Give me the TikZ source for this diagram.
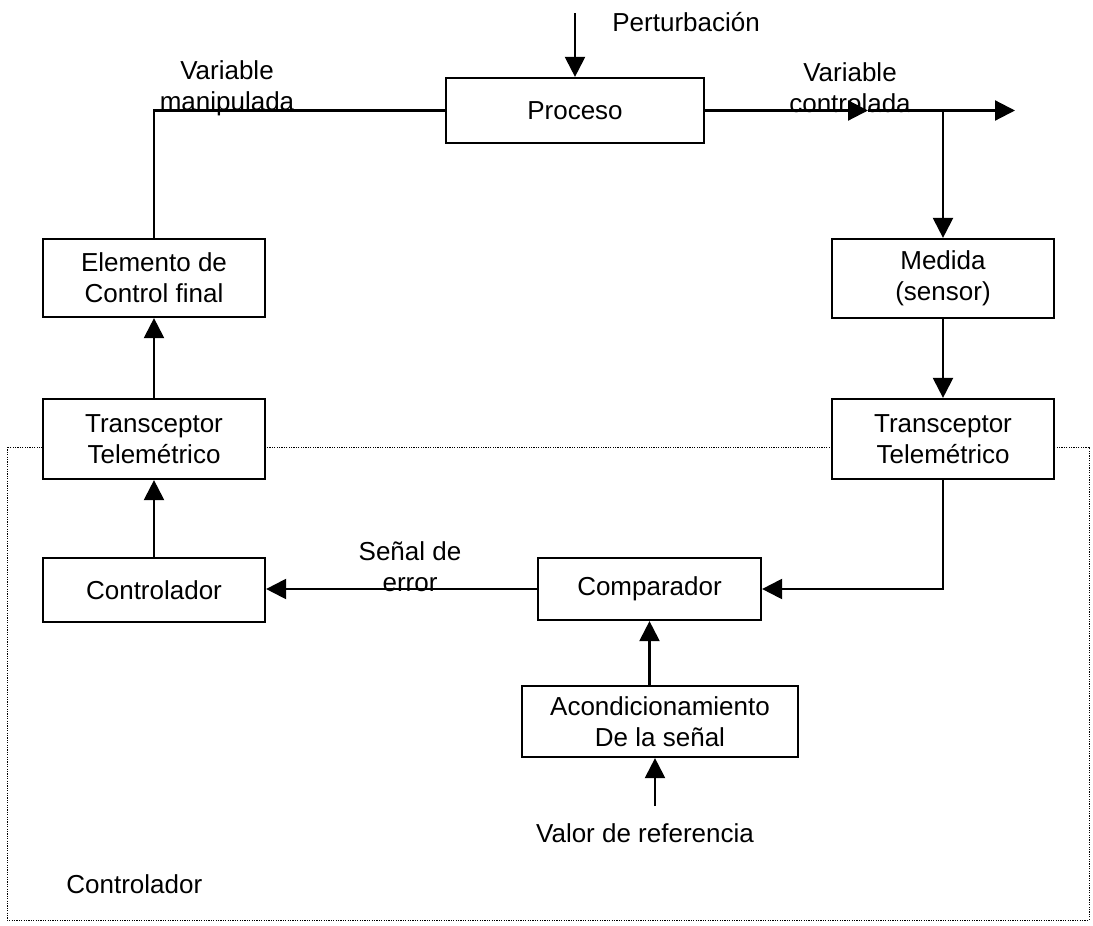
\documentclass[tikz,border=0pt]{standalone}
\usepackage{fontspec}
\setmainfont{Liberation Sans}
\usetikzlibrary{arrows.meta}
\newcommand\diagfont{\fontsize{13}{15.5}\selectfont}
\begin{document}
\begin{tikzpicture}[x=0.5pt,y=-0.5pt,
  box/.style={draw,line width=1.1pt,fill=white,inner sep=0pt,align=center,font=\diagfont},
  lbl/.style={inner sep=0pt,align=center,font=\diagfont},
  conn/.style={line width=1.1pt},
  arr/.style={line width=1.1pt,-{Triangle[length=10pt,width=10pt]}},
  border/.style={line width=0.5pt,dash pattern=on 0.6pt off 0.6pt}]
\useasboundingbox (0,0) rectangle (1093,926);
% dotted controller border
\draw[border] (7,447) rectangle (1089,920);
% boxes
\node[box,minimum width=129pt,minimum height=32.5pt] (proc) at (575,110.5) {Proceso};
\node[box,minimum width=111pt,minimum height=39pt] (elem) at (154,278) {Elemento de\\Control final};
\node[box,minimum width=111pt,minimum height=40pt] (trL) at (154,439) {Transceptor\\Telemétrico};
\node[box,minimum width=111pt,minimum height=32pt] (ctrl) at (154,590) {Controlador};
\node[box,minimum width=111.5pt,minimum height=31pt] (comp) at (649.5,589) {Comparador};
\node[box,minimum width=138pt,minimum height=35.5pt] (acond) at (660,721.5) {Acondicionamiento\\De la señal};
\node[box,minimum width=111pt,minimum height=39.5pt] (med) at (943,278.5) {Medida\\(sensor)};
\node[box,minimum width=111pt,minimum height=40pt] (trR) at (943,439) {Transceptor\\Telemétrico};
% labels
\node[lbl,anchor=west] (pert) at (612,22) {Perturbación};
\node[lbl] (vman) at (227,88) {Variable\\manipulada};
\node[lbl] (vcon) at (850,88) {Variable\\controlada};
\node[lbl] (serr) at (410,567) {Señal de\\error};
\node[lbl] (valor) at (645,833) {Valor de referencia};
\node[lbl,anchor=west] (ctrllbl) at (66,884) {Controlador};
% coordinates
\coordinate (ptop) at (575,13);
\coordinate (mid) at (868,110.5);
\coordinate (out) at (1015,110.5);
\coordinate (br) at (943,110.5);
\coordinate (vr) at (655,806);
% connectors
\draw[arr] (ptop) -- (proc.north);
\draw[conn] (elem.north) |- (proc.west);
\draw[arr] (proc.east) -- (mid);
\draw[arr] (mid) -- (out);
\draw[arr] (br) -- (br |- med.north);
\draw[arr] (med.south) -- (trR.north);
\draw[arr] (trR.south) |- (comp.east);
\draw[arr] (comp.west) -- (comp.west -| ctrl.east);
\draw[arr] (ctrl.north) -- (trL.south);
\draw[arr] (trL.north) -- (elem.south);
\draw[arr] (comp.south |- acond.north) -- (comp.south);
\draw[arr] (vr) -- (vr |- acond.south);
\end{tikzpicture}
\end{document}
